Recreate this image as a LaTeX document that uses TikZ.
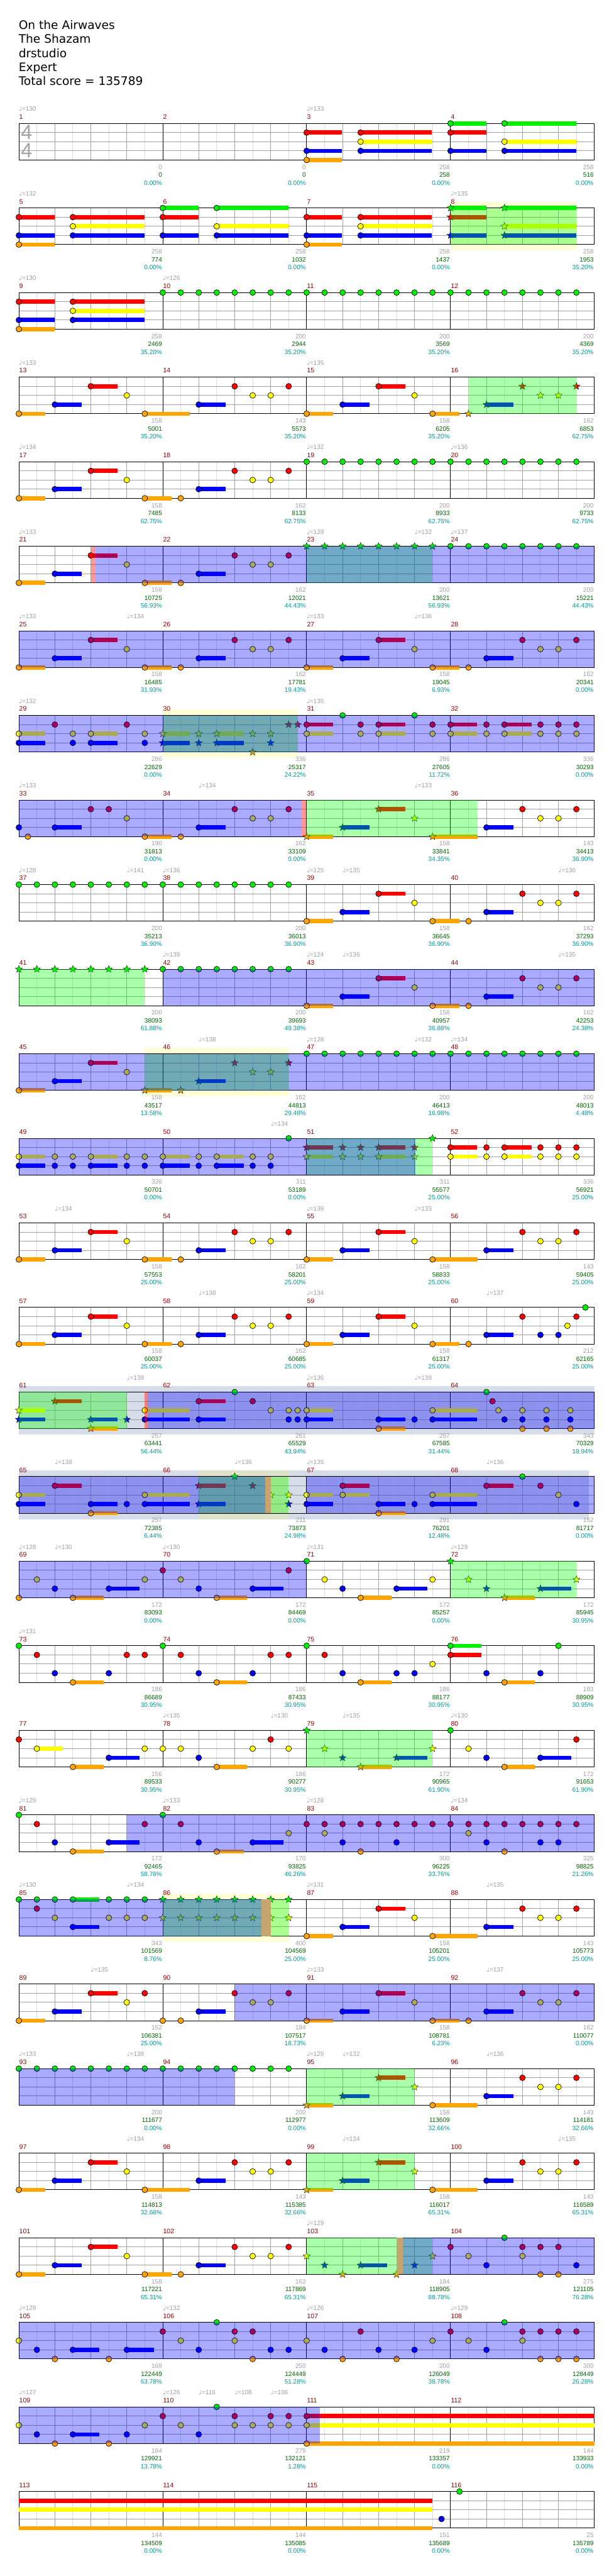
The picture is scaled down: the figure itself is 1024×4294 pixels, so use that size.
\documentclass[tikz,border=0pt]{standalone}
\usepackage{fontspec}
\usetikzlibrary{shapes.geometric}
\newfontfamily\lib{Liberation Sans}
\newfontfamily\dv{DejaVu Sans}
\definecolor{c0}{RGB}{0,240,0}
\definecolor{c1}{RGB}{255,0,0}
\definecolor{c2}{RGB}{255,255,0}
\definecolor{c3}{RGB}{0,0,255}
\definecolor{c4}{RGB}{255,165,0}
\definecolor{py}{RGB}{255,255,215}
\definecolor{gb}{RGB}{214,220,232}
\definecolor{pyg}{RGB}{222,226,200}
\definecolor{ob}{RGB}{0,0,255}
\definecolor{og}{RGB}{0,255,0}
\definecolor{orr}{RGB}{255,0,0}
\definecolor{tn}{RGB}{198,165,110}
\definecolor{gridl}{RGB}{222,222,222}
\definecolor{gridm}{RGB}{160,160,160}
\definecolor{mred}{RGB}{150,0,0}
\definecolor{gtxt}{RGB}{160,160,160}
\definecolor{stxt}{RGB}{0,100,0}
\definecolor{ptxt}{RGB}{0,153,153}
\definecolor{tsg}{RGB}{165,165,165}
\definecolor{stroke}{RGB}{20,50,20}
% note helpers: row, position (16ths), lane
\newcommand\xNT[3]{\filldraw[nh, fill=c#3] ({31.5+15*(#2)},{205.7+140.98*(#1)+15.25*(#3)}) circle[radius=4.8pt];}
\newcommand\xSN[3]{\node[stn, fill=c#3] at ({31.5+15*(#2)},{205.7+140.98*(#1)+15.25*(#3)}) {};}
\newcommand\xSU[4]{\fill[c#4] ({31.5+15*(#2)},{205.7+140.98*(#1)+15.25*(#4)-3.5}) rectangle ({31.5+15*(#3)},{205.7+140.98*(#1)+15.25*(#4)+3.5});}
\newcommand\xNS[4]{\xSU{#1}{#2}{#3}{#4}\xNT{#1}{#2}{#4}}
\newcommand\xSS[4]{\xSU{#1}{#2}{#3}{#4}\xSN{#1}{#2}{#4}}
\newcommand\xNL[2]{\foreach \pp/\la in {#2}{\xNT{#1}{\pp}{\la}}}
\newcommand\xSL[2]{\foreach \pp/\la in {#2}{\xSN{#1}{\pp}{\la}}}
\newcommand\xUL[2]{\foreach \pa/\pq/\la in {#2}{\xNS{#1}{\pa}{\pq}{\la}}}
\newcommand\xUSL[2]{\foreach \pa/\pq/\la in {#2}{\xSS{#1}{\pa}{\pq}{\la}}}
\newcommand\xPB[2]{\xNS{#1}{#2}{#2+2.92}{4}\xNS{#1}{#2+4}{#2+6.97}{3}\xNS{#1}{#2+8}{#2+10.97}{1}\xNT{#1}{#2+12}{2}}
\newcommand\xPC[2]{\xNS{#1}{#2+4}{#2+6.99}{3}\xNT{#1}{#2+8}{1}\xNT{#1}{#2+10}{2}\xNT{#1}{#2+12}{2}\xNT{#1}{#2+14}{1}}
\begin{document}
\begin{tikzpicture}[x=1pt,y=-1pt,
 nh/.style={draw=black, line width=0.7pt},
 stn/.style={star, star points=5, star point ratio=2.3, minimum size=12.5pt, inner sep=0pt, draw=stroke, line width=0.5pt},
 gl/.style={draw=gridl, line width=1pt},
 gm/.style={draw=gridm, line width=1pt},
 gk/.style={draw=black, line width=1pt},
 ov/.style={fill opacity=0.3333},
 ttl/.style={font=\dv\fontsize{19.5}{20}\selectfont, anchor=base west, inner sep=0pt},
 mnum/.style={font=\lib\fontsize{11}{11}\selectfont, text=mred, anchor=base west, inner sep=0pt},
 gnum/.style={font=\lib\fontsize{10.5}{11}\selectfont, text=gtxt, anchor=base east, inner sep=0pt},
 snum/.style={font=\lib\fontsize{10.5}{11}\selectfont, text=stxt, anchor=base east, inner sep=0pt},
 pnum/.style={font=\lib\fontsize{10.5}{11}\selectfont, text=ptxt, anchor=base east, inner sep=0pt},
 tempo/.style={font=\lib\fontsize{10.5}{11}\selectfont, text=gtxt, anchor=base west, inner sep=0pt},
 tsig/.style={font=\lib\fontsize{34}{34}\selectfont, text=tsg, inner sep=0pt}]
\useasboundingbox (0,0) rectangle (1024,4294);
\fill[white] (0,0) rectangle (1024,4294);
% extended background bands
\foreach \r/\pa/\pq/\cc in {1/48/62/py, 7/16/31/py, 11/14/30/py, 15/0/64/gb, 16/0/63.4/gb, 16/20/30/pyg, 21/16/30/py}{
 \fill[\cc] ({31.5+15*\pa},{205.7+140.98*\r-10}) rectangle ({31.5+15*\pq},{205.7+140.98*\r+71});}
% staff grids
\foreach \r in {0,...,28}{
 \pgfmathsetmacro\T{205.7+140.98*\r}
 \foreach \pp in {2,6,...,62}{\draw[gl] ({31.5+15*\pp},\T) -- ++(0,61);}
 \foreach \pp in {4,8,12,20,24,28,36,40,44,52,56,60}{\draw[gm] ({31.5+15*\pp},\T) -- ++(0,61);}
 \foreach \la in {1,2,3}{\draw[gm] (31.5,{\T+15.25*\la}) -- (991.5,{\T+15.25*\la});}
 \foreach \pp in {16,32,48}{\draw[gk] ({31.5+15*\pp},\T) -- ++(0,61);}
 \draw[gk] (31.5,\T) rectangle (991.5,{\T+61});
}
\node[tsig] (tsa) at (44.5,220.8) {4};
\node[tsig] (tsb) at (44.5,250.8) {4};
% ---- notes ----
\xUL{0}{32/35.9/1,32/35.9/3,32/35.9/4,38/45.9/1,38/45.9/2,38/45.9/3,48/52/0,48/52/1,48/52/3,54/62/0,54/62/2,54/62/3}
\xUL{1}{0/3.96/1,0/3.96/3,0/3.96/4,6/14/1,6/14/2,6/14/3,16/20/0,16/20/1,16/20/3,22/30/0,22/30/2,22/30/3,32/35.9/1,32/35.9/3,32/35.9/4,38/45.9/1,38/45.9/2,38/45.9/3}
\xUSL{1}{48/52/0,48/52/1,48/52/3,54/62/0,54/62/2,54/62/3}
\xUL{2}{0/3.96/1,0/3.96/3,0/3.96/4,6/14/1,6/14/2,6/14/3}
\foreach \pp in {16,18,...,62}{\xNT{2}{\pp}{0}}
\xPB{3}{0}\xNS{3}{14}{19}{4}\xPC{3}{16}\xPB{3}{32}\xNS{3}{46}{49}{4}\xSN{3}{50}{4}\xSS{3}{52}{55}{3}\xSL{3}{56/1,58/2,60/2,62/1}
\xPB{4}{0}\xNS{4}{14}{17}{4}\xNT{4}{18}{4}\xPC{4}{16}\foreach \pp in {32,34,...,62}{\xNT{4}{\pp}{0}}
\xPB{5}{0}\xNS{5}{14}{17}{4}\xNT{5}{18}{4}\xPC{5}{16}\foreach \pp in {32,34,...,46}{\xSN{5}{\pp}{0}}\foreach \pp in {48,50,...,62}{\xNT{5}{\pp}{0}}
\xPB{6}{0}\xNS{6}{14}{17}{4}\xNT{6}{18}{4}\xPC{6}{16}\xPB{6}{32}\xNS{6}{46}{49}{4}\xNT{6}{50}{4}\xPC{6}{48}
\xUL{7}{0/2.92/2,0/2.92/3,8/10.97/2,8/10.97/3}\xNL{7}{4/1,6/2,6/3,12/1,14/2,14/3}
\xUSL{7}{16/18.98/2,16/18.98/3,22/25/2,22/25/3}\xSL{7}{20/2,20/3,26/2,26/4,28/2,28/3,30/1,31/1}
\xUL{7}{32/34.96/1,32/34.96/2,40/42.97/1,40/42.97/2,48/50.98/1,48/50.98/2,54/57/1,54/57/2}
\xNL{7}{36/0,38/1,38/2,44/0,46/1,46/2,52/1,52/2,58/1,58/2,60/1,60/2,62/1,62/2}
\xNL{8}{0/3,1/4,8/1,10/1,12/2,18/4,24/1,26/2,28/2,30/1}\xUL{8}{4/6.97/3,14/17/4,20/23/3}
\xUSL{8}{32/34.96/4,36/38.96/3,40/42.97/1,46/51/4}\xSN{8}{44}{2}\xPC{8}{48}
\foreach \pp in {0,2,...,30}{\xNT{9}{\pp}{0}}\xPB{9}{32}\xNS{9}{46}{49}{4}\xNT{9}{50}{4}\xPC{9}{48}
\foreach \pp in {0,2,...,14}{\xSN{10}{\pp}{0}}\foreach \pp in {16,18,...,30}{\xNT{10}{\pp}{0}}\xPB{10}{32}\xNS{10}{46}{49}{4}\xNT{10}{50}{4}\xPC{10}{48}
\xPB{11}{0}\xUSL{11}{14/17/4,20/23/3}\xSL{11}{18/4,24/1,26/2,28/2,30/1}\foreach \pp in {32,34,...,62}{\xNT{11}{\pp}{0}}
\xUL{12}{0/2.92/2,0/2.92/3,8/10.97/2,8/10.97/3,16/18.98/2,16/18.98/3,22/25/2,22/25/3,48/50.98/1,48/50.98/2,54/57/1,54/57/2}
\xNL{12}{4/2,4/3,6/2,6/3,12/2,12/3,14/2,14/3,20/2,20/3,26/2,26/3,28/2,28/3,30/0,52/1,52/2,58/1,58/2,60/1,60/2,62/1,62/2}
\xUSL{12}{32/34.96/1,32/34.96/2,40/42.97/1,40/42.97/2}\xSL{12}{36/1,36/2,38/1,38/2,44/1,44/2,46/0}
\xPB{13}{0}\xNS{13}{14}{17}{4}\xNT{13}{18}{4}\xPC{13}{16}\xPB{13}{32}\xNS{13}{46}{51}{4}\xPC{13}{48}
\xPB{14}{0}\xNS{14}{14}{17}{4}\xNT{14}{18}{4}\xPC{14}{16}\xPB{14}{32}\xNS{14}{46}{49}{4}\xNT{14}{50}{4}\xNS{14}{52}{55}{3}\xNL{14}{56/1,58/3,60/3,61/2,62/1,63/0}
\xUSL{15}{0/2.92/2,0/2.92/3,4/6.97/1,8/10.97/3,8/10.97/4}\xSN{15}{12}{3}
\xUL{15}{14/18.98/2,14/18.98/3,20/23/1,20/23/3,32/34.96/2,32/34.96/3,40/42.97/3,40/42.97/4,46/50.98/2,46/50.98/3}
\xNL{15}{24/0,26/1,28/2,30/2,30/3,31/2,31/3,44/3,52/0,52.67/1,53.33/2,54/3,56/2,56/3,56/4,58.67/2,58.67/3,58.67/4,61.33/2,61.33/3,61.33/4}
\xUL{16}{0/2.92/2,0/2.92/3,4/6.97/1,8/10.97/3,8/10.97/4,14/18.98/2,14/18.98/3,32/34.96/2,32/34.96/3,36/38.96/1,36/38.96/2,40/42.97/3,40/42.97/4,46/50.98/2,46/50.98/3,52/55/1}
\xNL{16}{12/3,44/3,56/0,58/1,60/2,62/3}\xUSL{16}{20/23/1,20/23/3}\xSL{16}{24/0,26/1,28/2,30/2,30/3}
\xNL{17}{0/4,2/2,4/3,14/2,16/1,18/2,20/3,30/1,32/0,34/2,36/3,46/2}\xUL{17}{6/9.45/4,10/13.45/3,22/25.4/4,26/29.4/3,38/41.45/4,42/45.45/3}
\xSL{17}{48/0,50/2,52/3,62/2}\xUSL{17}{54/57.4/4,58/61.4/3}
\xNL{18}{0/0,2/1,4/3,10/3,12/1,14/1,16/0,18/1,20/3,26/3,28/1,30/1,32/0,34/1,36/3,42/3,44/3,46/2,52/3,58/3,60/0}
\xUL{18}{6/9.45/4,22/25.4/4,38/41.45/4,48/51.4/0,48/51.4/1,54/57.4/4}
\xNL{19}{0/1,14/2,16/2,18/2,20/3,26/2,28/1,30/2,48/0,50/2,52/3,62/1}\xUL{19}{2/4.9/2,6/9.45/4,10/13.45/3,22/25.4/4,54/57.4/4,58/61.4/3}
\xSL{19}{32/0,34/2,36/3,46/2}\xUSL{19}{38/41.45/4,42/45.45/3}
\xNL{20}{0/0,2/1,4/3,14/1,16/0,18/1,20/3,30/2,34/2,36/3,38/4,42/3,50/2,52/3,54/4,58/3,60/3}
\foreach \pp in {32,34,...,62}{\xNT{20}{\pp}{1}}\xUL{20}{6/9.45/4,10/13.45/3,22/25/4,26/29.45/3}
\xNL{21}{0/0,2/0,2/1,4/0,4/2,10/0,10/2,12/0,12/2,14/0,14/2}\xUL{21}{6/8.97/0,6/8.97/3}
\foreach \pp in {16,18,...,30}{\xSN{21}{\pp}{0}\xSN{21}{\pp}{2}}\xPB{21}{32}\xNS{21}{46}{51}{4}\xPC{21}{48}
\xPB{22}{0}\xNL{22}{14/1,16/4,18/4}\xPC{22}{16}\xPB{22}{32}\xNS{22}{46}{49}{4}\xNT{22}{50}{4}\xPC{22}{48}
\foreach \pp in {0,2,...,30}{\xNT{23}{\pp}{0}}\xUSL{23}{32/34.96/4,36/38.96/3,40/42.97/1}\xSN{23}{44}{2}\xNS{23}{46}{51}{4}\xPC{23}{48}
\xPB{24}{0}\xNS{24}{14}{19}{4}\xPC{24}{16}\xUSL{24}{32/34.96/4,36/38.96/3,40/42.97/1}\xSN{24}{44}{2}\xNS{24}{46}{51}{4}\xPC{24}{48}
\xPB{25}{0}\xNS{25}{14}{17}{4}\xNT{25}{18}{4}\xPC{25}{16}\xSL{25}{32/2,34/3,36/4,42/4,44/3,46/2}\xSS{25}{38}{40.97}{3}
\xNL{25}{48/1,50/2,52/3,54/0,56/1,56/2,58/1,58/4,60/1,60/4,62/3}
\xUL{26}{6/8.97/3,12/15/3}
\xNL{26}{0/2,2/3,4/4,10/4,16/1,18/2,20/3,22/0,24/1,24/2,26/1,26/4,28/3,30/3,32/2,34/3,36/4,38/1,40/3,42/4,44/3,46/2,48/1,50/2,52/3,54/0,56/1,56/2,58/1,58/4,60/1,60/4,62/1,62/4}
\xUL{27}{6/8.97/3,32/64/1,32/64/2,32/64/4}
\xNL{27}{0/2,2/3,4/4,10/4,12/3,14/2,16/1,18/2,20/3,22/0,24/1,24/2,26/2,28/1,28/2,30/1,30/2}
\xSU{28}{0}{46}{1}\xSU{28}{0}{46}{2}\xSU{28}{0}{46}{4}\xNT{28}{47}{3}\xNT{28}{49}{0}
% ---- star power (green) overlays, then overdrive (blue) overlays ----
\foreach \r/\pa/\pq in {1/48/62, 3/50/62, 5/32/46, 7/16/31, 8/32/51, 10/0/14, 11/14/30, 12/32/46, 15/0/12,
 16/20/30, 17/48/62, 19/32/46, 21/16/30, 23/32/44, 24/32/44, 25/32/46}{
 \fill[og, ov] ({31.5+15*\pa},{205.7+140.98*\r}) rectangle ({31.5+15*\pq},{205.7+140.98*\r+61});}
\foreach \r/\pa/\pq in {5/8.5/64, 6/0/64, 7/0/64, 8/0/31.43, 10/16/64, 11/0/64, 12/0/44.1, 15/14.35/64, 16/0/27.4,
 16/32/64, 17/0/32, 20/12/64, 21/0/27, 22/24/64, 23/0/24, 25/42.7/64, 26/0/64, 27/0/33.5}{
 \fill[ob, ov] ({31.5+15*\pa},{205.7+140.98*\r}) rectangle ({31.5+15*\pq},{205.7+140.98*\r+61});}
\foreach \r/\pa/\pq in {5/8/8.5, 8/31.43/32, 15/14/14.35}{
 \fill[orr, fill opacity=0.4] ({31.5+15*\pa},{205.7+140.98*\r}) rectangle ({31.5+15*\pq},{205.7+140.98*\r+61});}
\foreach \r/\pa/\pq in {16/27.4/28, 21/27/28, 25/42/42.7}{
 \fill[tn] ({31.5+15*\pa},{205.7+140.98*\r}) rectangle ({31.5+15*\pq},{205.7+140.98*\r+61});}
% ---- texts ----
\node[ttl] (t1) at (31,49) {On the Airwaves};
\node[ttl] (t2) at (31,72.2) {The Shazam};
\node[ttl] (t3) at (31,95.4) {drstudio};
\node[ttl] (t4) at (31,118.6) {Expert};
\node[ttl] (t5) at (31,141.8) {Total score = 135789};
\foreach \r/\pp/\v [count=\i] in {0/0/130, 0/32/133, 1/0/132, 1/48/135, 2/0/130, 2/16/126, 3/0/133, 3/32/135, 4/0/134, 4/32/132, 4/48/136,
 5/0/133, 5/32/129, 5/44/132, 5/48/137, 6/0/133, 6/12/134, 6/32/133, 6/44/136, 7/0/132, 7/32/135, 8/0/133, 8/20/134, 8/44/133,
 9/0/128, 9/12/141, 9/16/136, 9/32/125, 9/36/135, 9/60/130, 10/16/139, 10/32/124, 10/36/136, 10/60/135, 11/20/138, 11/32/128,
 11/44/132, 11/48/134, 12/28/134, 13/4/134, 13/32/139, 13/44/133, 14/20/138, 14/32/134, 14/52/137, 15/12/139, 15/32/136,
 15/44/139, 16/4/138, 16/24/136, 16/32/135, 16/52/136, 17/0/128, 17/4/130, 17/16/130, 17/32/131, 17/48/129, 18/0/131,
 19/16/135, 19/28/130, 19/36/135, 19/48/130, 20/0/129, 20/16/133, 20/32/128, 20/48/134, 21/0/130, 21/12/134, 21/32/131,
 21/52/135, 22/8/135, 22/32/133, 22/52/137, 23/0/133, 23/12/138, 23/32/129, 23/36/132, 23/52/136, 24/12/134, 24/36/134,
 24/60/135, 25/32/129, 26/0/129, 26/16/132, 26/32/126, 26/48/129, 27/0/127, 27/16/126, 27/20/116, 27/24/108, 27/28/106}{
 \node[tempo] (tp\i) at ({31.5+15*\pp},{205.7+140.98*\r-20.3}) {{\dv ♩}=\v};}
\foreach \m/\g/\s/\pc in {1/0/0/0.00, 2/0/0/0.00, 3/258/258/0.00, 4/258/516/0.00,
 5/258/774/0.00, 6/258/1032/0.00, 7/258/1437/0.00, 8/258/1953/35.20,
 9/258/2469/35.20, 10/200/2944/35.20, 11/200/3569/35.20, 12/200/4369/35.20,
 13/158/5001/35.20, 14/143/5573/35.20, 15/158/6205/35.20, 16/162/6853/62.75,
 17/158/7485/62.75, 18/162/8133/62.75, 19/200/8933/62.75, 20/200/9733/62.75,
 21/158/10725/56.93, 22/162/12021/44.43, 23/200/13621/56.93, 24/200/15221/44.43,
 25/158/16485/31.93, 26/162/17781/19.43, 27/158/19045/6.93, 28/162/20341/0.00,
 29/286/22629/0.00, 30/336/25317/24.22, 31/286/27605/11.72, 32/336/30293/0.00,
 33/190/31813/0.00, 34/162/33109/0.00, 35/158/33841/34.35, 36/143/34413/36.90,
 37/200/35213/36.90, 38/200/36013/36.90, 39/158/36645/36.90, 40/162/37293/36.90,
 41/200/38093/61.88, 42/200/39693/49.38, 43/158/40957/36.88, 44/162/42253/24.38,
 45/158/43517/13.58, 46/162/44813/29.48, 47/200/46413/16.98, 48/200/48013/4.48,
 49/336/50701/0.00, 50/311/53189/0.00, 51/311/55577/25.00, 52/336/56921/25.00,
 53/158/57553/25.00, 54/162/58201/25.00, 55/158/58833/25.00, 56/143/59405/25.00,
 57/158/60037/25.00, 58/162/60685/25.00, 59/158/61317/25.00, 60/212/62165/25.00,
 61/257/63441/56.44, 62/261/65529/43.94, 63/257/67585/31.44, 64/343/70329/18.94,
 65/257/72385/6.44, 66/211/73873/24.98, 67/291/76201/12.48, 68/152/81717/0.00,
 69/172/83093/0.00, 70/172/84469/0.00, 71/172/85257/0.00, 72/172/85945/30.95,
 73/186/86689/30.95, 74/186/87433/30.95, 75/186/88177/30.95, 76/183/88909/30.95,
 77/156/89533/30.95, 78/186/90277/30.95, 79/172/90965/61.90, 80/172/91653/61.90,
 81/172/92465/58.76, 82/170/93825/46.26, 83/300/96225/33.76, 84/325/98825/21.26,
 85/343/101569/8.76, 86/400/104569/25.00, 87/158/105201/25.00, 88/143/105773/25.00,
 89/152/106381/25.00, 90/184/107517/18.73, 91/158/108781/6.23, 92/162/110077/0.00,
 93/200/111677/0.00, 94/200/112977/0.00, 95/158/113609/32.66, 96/143/114181/32.66,
 97/158/114813/32.66, 98/143/115385/32.66, 99/158/116017/65.31, 100/143/116589/65.31,
 101/158/117221/65.31, 102/162/117869/65.31, 103/184/118905/88.78, 104/275/121105/76.28,
 105/168/122449/63.78, 106/250/124449/51.28, 107/200/126049/38.78, 108/300/128449/26.28,
 109/184/129921/13.78, 110/275/132121/1.28, 111/219/133357/0.00, 112/144/133933/0.00,
 113/144/134509/0.00, 114/144/135085/0.00, 115/151/135689/0.00, 116/25/135789/0.00}{
 \pgfmathtruncatemacro\rr{(\m-1)/4}
 \pgfmathtruncatemacro\cc{\m-1-4*\rr}
 \node[mnum] (mn\m) at ({32+240*\cc},{205.7+140.98*\rr-7}) {\m};
 \node[gnum] (gn\m) at ({30.5+240*(\cc+1)},{205.7+140.98*\rr+76.4}) {\g};
 \node[snum] (sn\m) at ({30.5+240*(\cc+1)},{205.7+140.98*\rr+89.7}) {\s};
 \node[pnum] (pn\m) at ({30.5+240*(\cc+1)},{205.7+140.98*\rr+102.6}) {\pc\%};
}
\end{tikzpicture}
\end{document}
